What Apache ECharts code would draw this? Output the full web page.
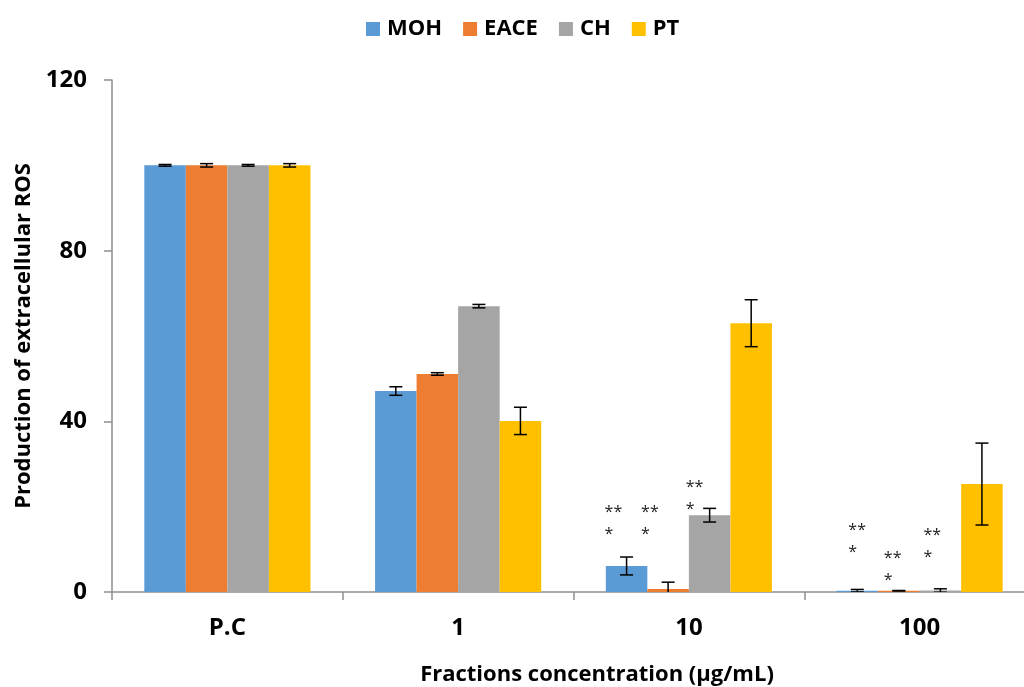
<!DOCTYPE html>
<html>
<head>
<meta charset="utf-8">
<script src="https://cdn.jsdelivr.net/npm/echarts@6/dist/echarts.min.js"></script>
<style>html,body{margin:0;padding:0;background:#fff}#c{width:1024px;height:687px}</style>
</head>
<body>
<div id="c"></div>
<script>
const categories = ['P.C', '1', '10', '100'];
const seriesNames = ['MOH', 'EACE', 'CH', 'PT'];
const mohValues = [100, 47.1, 6.1, 0.3];
const mohErrors = [0.2, 1.0, 2.1, 0.3];
const eaceValues = [100, 51.1, 0.7, 0.3];
const eaceErrors = [0.4, 0.3, 1.6, 0.05];
const chValues = [100, 67.0, 18.0, 0.35];
const chErrors = [0.2, 0.4, 1.6, 0.4];
const ptValues = [100, 40.1, 63.0, 25.3];
const ptErrors = [0.4, 3.2, 5.5, 9.6];
const mohStars = ['', '', '**\n*', '**\n*'];
const eaceStars = ['', '', '**\n*', '**\n*'];
const chStars = ['', '', '**\n*', '**\n*'];
const ptStars = ['', '', '', ''];

const colors = ['#5B9BD5', '#ED7D31', '#A5A5A5', '#FFC000'];
const allValues = [mohValues, eaceValues, chValues, ptValues];
const allErrors = [mohErrors, eaceErrors, chErrors, ptErrors];
const allStars = [mohStars, eaceStars, chStars, ptStars];
// label offsets (style only)
const starOffsets = [
  [null, null, [-22, -21], [-9, -27]],
  [null, null, [-27, -44], [-15, 1]],
  [null, null, [-24, 5], [-17, -22]],
  [null, null, null, null]
];
const FONT = 'Open Sans';
const axisColor = '#8e8e8e';

const barSeries = seriesNames.map((name, s) => ({
  name: name,
  type: 'bar',
  barGap: 0,
  barCategoryGap: '28%',
  itemStyle: { color: colors[s] },
  data: allValues[s].map((v, i) => {
    const item = { value: v };
    if (allStars[s][i]) {
      item.label = {
        show: true,
        formatter: allStars[s][i],
        position: 'top',
        distance: 0,
        align: 'left',
        verticalAlign: 'bottom',
        offset: starOffsets[s][i],
        fontSize: 16,
        lineHeight: 22,
        color: '#222',
        fontFamily: FONT
      };
    }
    return item;
  })
}));

const errData = [];
allValues.forEach((vals, s) => vals.forEach((v, i) => errData.push([i, v, allErrors[s][i], s])));

const errorSeries = {
  type: 'custom',
  name: 'err',
  clip: true,
  z: 10,
  data: errData,
  renderItem: function (params, api) {
    const ci = api.value(0), v = api.value(1), e = api.value(2), si = api.value(3);
    const band = api.size([1, 0])[0];
    const bw = band * 0.72 / 4;
    const cx = api.coord([ci, v])[0] + (si - 1.5) * bw;
    const yTop = api.coord([ci, v + e])[1];
    const yBot = api.coord([ci, v - e])[1];
    const hw = 6.5;
    const st = { stroke: '#000', lineWidth: 1.5 };
    return {
      type: 'group',
      children: [
        { type: 'line', shape: { x1: cx, y1: yTop, x2: cx, y2: yBot }, style: st },
        { type: 'line', shape: { x1: cx - hw, y1: yTop, x2: cx + hw, y2: yTop }, style: st },
        { type: 'line', shape: { x1: cx - hw, y1: yBot, x2: cx + hw, y2: yBot }, style: st }
      ]
    };
  }
};

const chart = echarts.init(document.getElementById('c'));
chart.setOption({
  animation: false,
  backgroundColor: '#fff',
  textStyle: { fontFamily: FONT },
  legend: {
    data: seriesNames,
    top: 13,
    left: 361,
    itemWidth: 14,
    itemHeight: 14,
    itemGap: 21,
    icon: 'rect',
    textStyle: { fontSize: 22, fontWeight: 'bold', color: '#000', fontFamily: FONT, padding: [0, 0, 0, 2] }
  },
  grid: { left: 112, top: 80, width: 923, height: 512, containLabel: false, outerBoundsMode: 'none' },
  xAxis: {
    type: 'category',
    data: categories,
    name: 'Fractions concentration (µg/mL)',
    nameLocation: 'middle',
    nameGap: 72,
    nameTextStyle: { fontSize: 22, fontWeight: 'bold', color: '#000', fontFamily: FONT, padding: [0, 0, 0, 47] },
    axisLine: { lineStyle: { color: axisColor, width: 1.5 } },
    axisTick: { show: true, length: 8, lineStyle: { color: axisColor, width: 1.5 } },
    axisLabel: { fontSize: 24, fontWeight: 'bold', color: '#000', margin: 24, fontFamily: FONT }
  },
  yAxis: {
    type: 'value',
    min: 0,
    max: 120,
    interval: 40,
    name: 'Production of extracellular ROS',
    nameLocation: 'middle',
    nameGap: 74,
    nameTextStyle: { fontSize: 22, fontWeight: 'bold', color: '#000', fontFamily: FONT },
    splitLine: { show: false },
    axisLine: { show: true, lineStyle: { color: axisColor, width: 1.5 } },
    axisTick: { show: true, length: 8, lineStyle: { color: axisColor, width: 1.5 } },
    axisLabel: { fontSize: 24, fontWeight: 'bold', color: '#000', margin: 25, fontFamily: FONT }
  },
  series: barSeries.concat([errorSeries])
});
</script>
</body>
</html>
